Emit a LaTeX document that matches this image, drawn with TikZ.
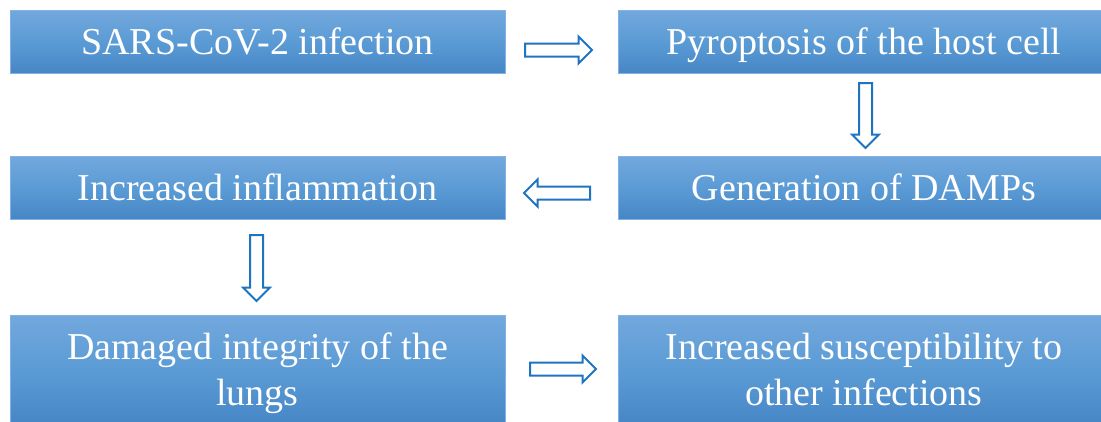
\documentclass[tikz,border=0pt]{standalone}
\usepackage{fontspec}
\setmainfont{Liberation Serif}
\usetikzlibrary{shapes.arrows}
\definecolor{boxtop}{RGB}{114,168,221}
\definecolor{boxmid}{RGB}{91,155,213}
\definecolor{boxbot}{RGB}{70,134,198}
\definecolor{boxedge}{RGB}{130,178,226}
\definecolor{arrowblue}{RGB}{31,116,193}
\tikzset{
  box/.style={rectangle, draw=boxedge, line width=0.8pt, top color=boxtop, bottom color=boxbot, middle color=boxmid,
    text=white, align=center, inner sep=0pt, text height=34pt, text depth=8pt,
    font=\fontsize{38}{46}\selectfont},
  twoline/.style={text height=78pt, text depth=8pt},
  blockarrow/.style={shape=single arrow, draw=arrowblue, fill=white, line width=2pt,
    inner xsep=0pt, inner ysep=5.5pt, single arrow head extend=7pt, single arrow tip angle=90,
    minimum width=0pt, anchor=tail}
}
\begin{document}
\begin{tikzpicture}[x=1pt,y=-1pt]
\useasboundingbox (0,0) rectangle (1101,421);
\clip (0,0) rectangle (1101,421);
\node[box, minimum width=495pt, minimum height=63pt] (b1) at (257.5,41.5) {SARS-CoV-2 infection};
\node[box, minimum width=492pt, minimum height=63pt] (b2) at (864,41.5) {Pyroptosis of the host cell};
\node[box, minimum width=492pt, minimum height=63pt] (b3) at (864,187.5) {Generation of DAMPs};
\node[box, minimum width=495pt, minimum height=63pt] (b4) at (257.5,187.5) {Increased inflammation};
\node[box, twoline, minimum width=495pt, minimum height=110pt] (b5) at (257.5,370) {Damaged integrity of the\\lungs};
\node[box, twoline, minimum width=492pt, minimum height=110pt] (b6) at (864,370) {Increased susceptibility to\\other infections};
\node[blockarrow, minimum height=67pt] (a1) at (524,50) {};
\node[blockarrow, minimum height=65pt, rotate=-90] (a2) at (865.5,82) {};
\node[blockarrow, minimum height=66pt, rotate=180] (a3) at (591,193) {};
\node[blockarrow, minimum height=66pt, rotate=-90] (a4) at (256.5,234) {};
\node[blockarrow, minimum height=66pt] (a5) at (529,369) {};
\end{tikzpicture}
\end{document}
